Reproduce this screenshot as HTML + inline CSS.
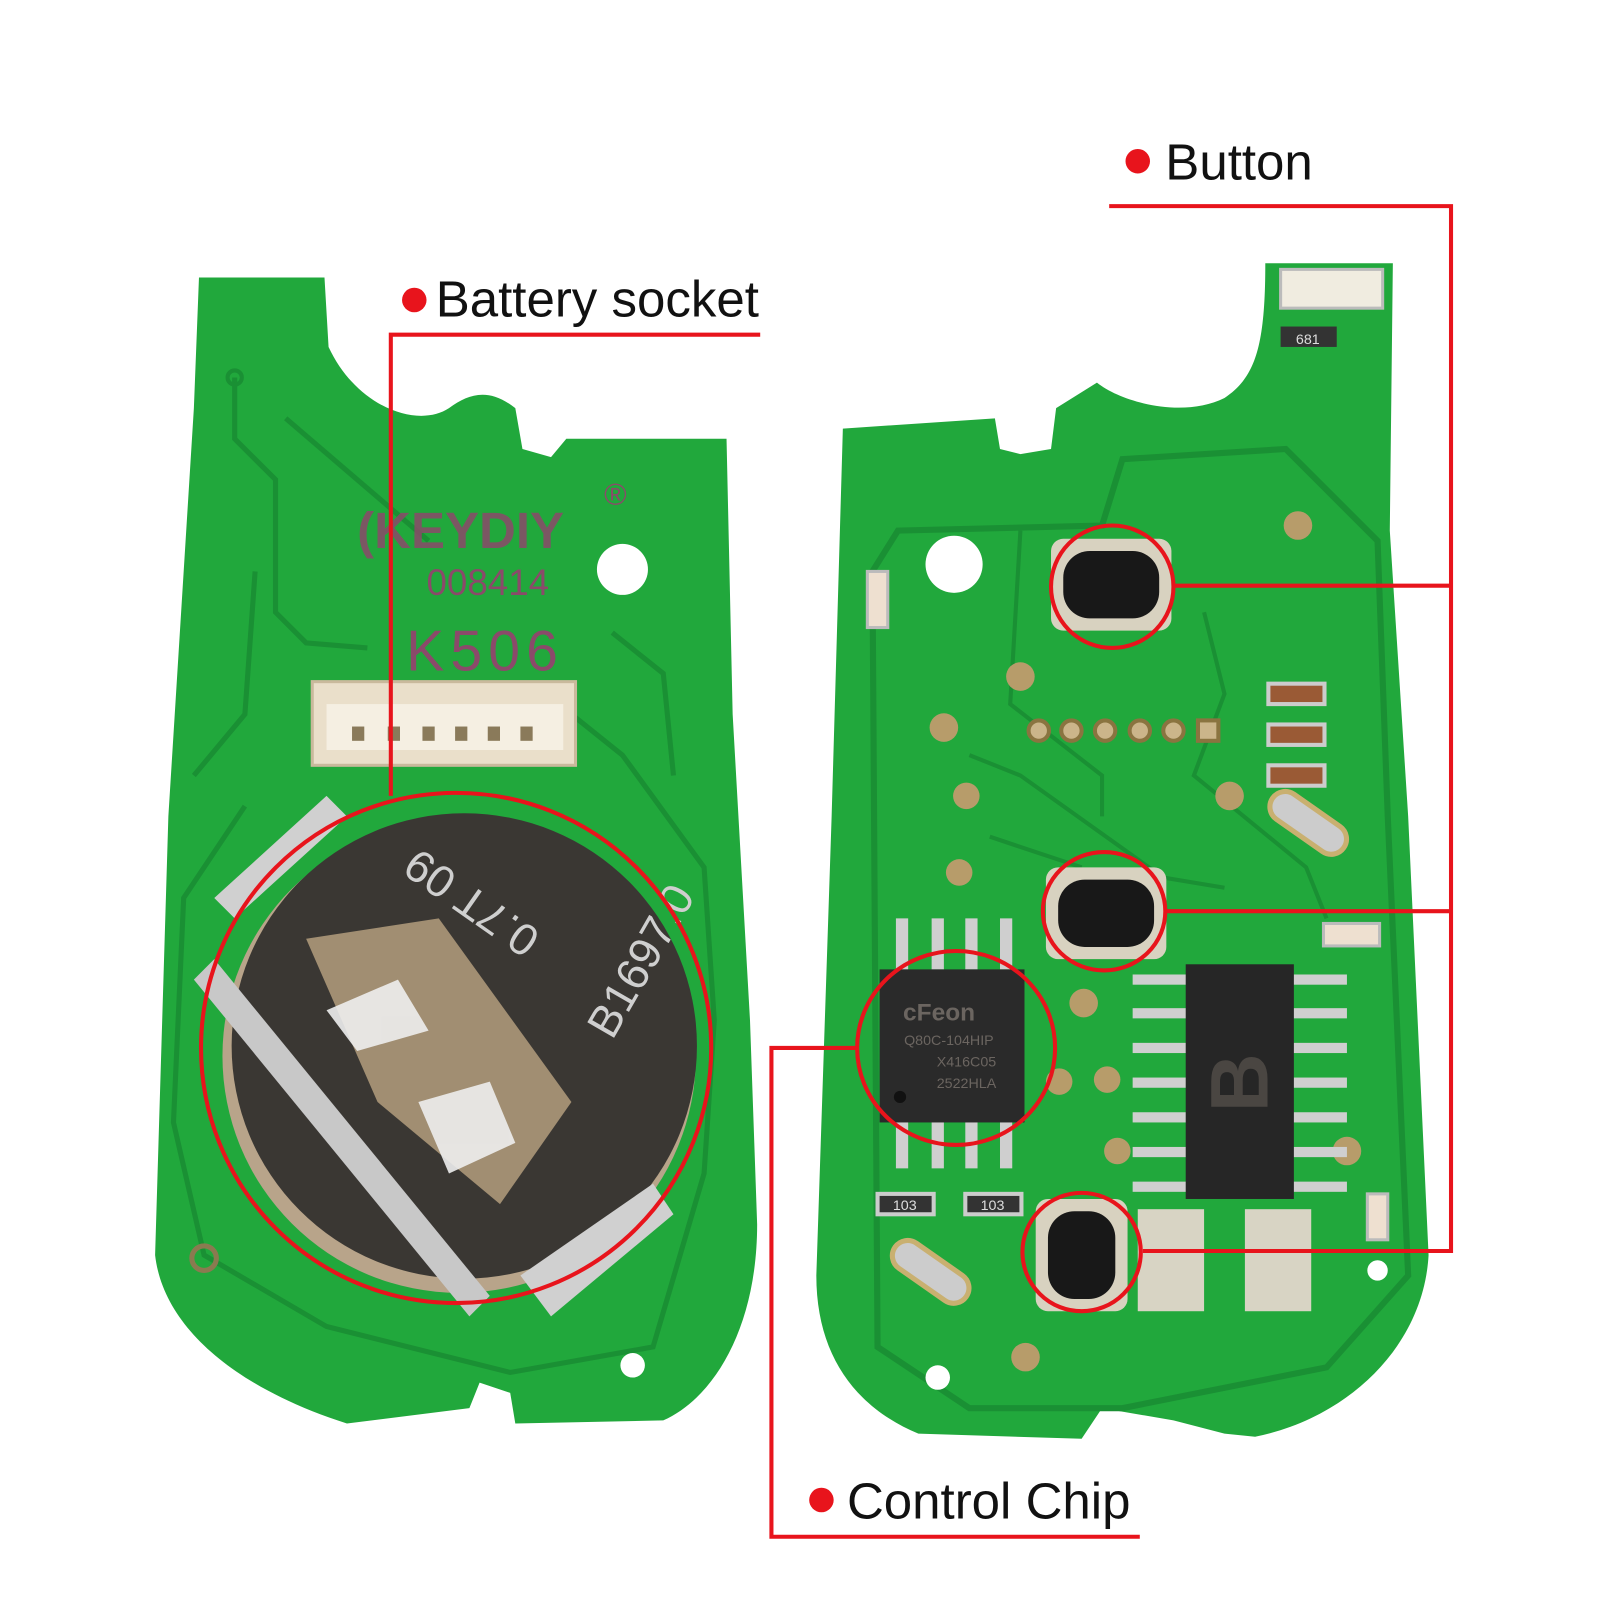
<!DOCTYPE html>
<html><head><meta charset="utf-8"><style>
html,body{margin:0;padding:0;background:#fff;width:1600px;height:1600px;overflow:hidden}
svg{display:block}
text{font-family:"Liberation Sans","DejaVu Sans",sans-serif}
</style></head><body>
<svg width="1600" height="1600" viewBox="0 0 1568 1568" xmlns="http://www.w3.org/2000/svg">
<rect width="1568" height="1568" fill="#fff"/>
<!-- LEFT PCB -->
<path d="M195,272 L318,272 L322,340 C350,400 410,420 440,400 C460,385 480,380 505,400 L512,440 L540,448 L555,430 L712,430 L718,700 L735,1000 L742,1200 C742,1300 700,1370 650,1392 L505,1395 L500,1365 L470,1355 L460,1380 L340,1395 C230,1360 160,1300 152,1230 L165,800 L190,400 Z" fill="#21a83c"/>
<g fill="none" stroke="#1a9034" stroke-width="5">
<path d="M230,370 L230,430 L270,470 L270,600 L300,630 L360,635"/>
<path d="M280,410 L420,530"/>
<path d="M190,760 L240,700 L250,560"/>
<path d="M560,700 L610,740 L690,850 L700,1000 L690,1150 L640,1320 L500,1345 L320,1300 L200,1230 L170,1100 L180,880 L240,790"/>
<path d="M600,620 L650,660 L660,760"/>
</g>
<circle cx="610" cy="558" r="25" fill="#fff"/>
<circle cx="620" cy="1338" r="12" fill="#fff"/>
<circle cx="200" cy="1233" r="12" fill="none" stroke="#8a7a50" stroke-width="5"/>
<circle cx="230" cy="370" r="7" fill="none" stroke="#1a9034" stroke-width="4"/>
<text x="350" y="537" font-size="50" font-weight="bold" fill="#8b4a6a" opacity="0.85">(KEYDIY</text>
<text x="592" y="495" font-size="30" fill="#8b4a6a">®</text>
<text x="418" y="583" font-size="36" fill="#8b4a6a">008414</text>
<text x="398" y="657" font-size="56" fill="#8b4a6a" letter-spacing="6">K506</text>
<!-- connector -->
<rect x="306" y="668" width="258" height="82" fill="#eadfca" stroke="#c9b99c" stroke-width="3"/>
<rect x="320" y="690" width="232" height="45" fill="#f5efe2"/>
<g fill="#8a7a5a"><rect x="345" y="712" width="12" height="14"/><rect x="380" y="712" width="12" height="14"/><rect x="414" y="712" width="12" height="14"/><rect x="446" y="712" width="12" height="14"/><rect x="478" y="712" width="12" height="14"/><rect x="510" y="712" width="12" height="14"/></g>
<!-- battery -->
<circle cx="450" cy="1035" r="232" fill="#b8a48a"/>
<circle cx="455" cy="1025" r="228" fill="#3a3733"/>
<polygon points="300,920 430,900 560,1080 490,1180 370,1080" fill="#a18e72"/>
<g fill="#eee" opacity="0.9"><polygon points="320,990 390,960 420,1010 350,1030"/><polygon points="410,1080 480,1060 505,1120 440,1150"/></g>
<polygon points="190,960 210,940 480,1270 460,1290" fill="#c8c8c8"/>
<polygon points="210,880 320,780 340,800 230,900" fill="#d0d0d0"/>
<polygon points="510,1250 640,1160 660,1190 540,1290" fill="#d0d0d0"/>
<text font-size="44" fill="#cfcfcf" transform="translate(410,830) rotate(35) scale(-1,-1)" text-anchor="end">0.7T 09</text>
<text font-size="44" fill="#cfcfcf" transform="translate(600,1020) rotate(-60)">B1697.0</text>
<circle cx="447" cy="1027" r="250" fill="none" stroke="#e8141c" stroke-width="4"/>
<!-- RIGHT PCB -->
<path d="M826,420 L975,410 L980,440 L1000,445 L1030,440 L1035,400 L1075,375 C1100,395 1160,410 1200,390 C1230,370 1240,340 1240,258 L1365,258 L1362,520 L1380,800 L1400,1230 C1395,1320 1320,1390 1230,1408 L1200,1405 L1150,1392 L1080,1380 L1060,1410 L900,1405 C840,1380 800,1330 800,1250 L815,800 Z" fill="#21a83c"/>
<g fill="none" stroke="#1a9034" stroke-width="6">
<path d="M860,1320 L855,560 L880,520 L1080,515 L1100,450 L1260,440 L1350,530 L1360,800 L1380,1250 L1300,1340 L1100,1380 L950,1380 Z"/>
</g>
<g fill="none" stroke="#1a9034" stroke-width="4">
<path d="M1000,520 L990,690 L1080,760 L1080,800"/>
<path d="M1180,600 L1200,680 L1170,760 L1280,850 L1300,900"/>
<path d="M950,740 L1000,760 L1140,860 L1200,870"/>
<path d="M970,820 L1060,850"/>
</g>
<circle cx="935" cy="553" r="28" fill="#fff"/>
<circle cx="919" cy="1350" r="12" fill="#fff"/>
<circle cx="1350" cy="1245" r="10" fill="#fff"/>
<g fill="#b79c6a"><circle cx="1272" cy="515" r="14"/><circle cx="1000" cy="663" r="14"/><circle cx="925" cy="713" r="14"/><circle cx="947" cy="780" r="13"/><circle cx="940" cy="855" r="13"/><circle cx="1205" cy="780" r="14"/><circle cx="1062" cy="983" r="14"/><circle cx="1085" cy="1058" r="13"/><circle cx="1038" cy="1060" r="13"/><circle cx="1095" cy="1128" r="13"/><circle cx="1320" cy="1128" r="14"/><circle cx="1005" cy="1330" r="14"/></g>
<g fill="#cbb58a" stroke="#8a7440" stroke-width="4"><circle cx="1018" cy="716" r="10"/><circle cx="1050" cy="716" r="10"/><circle cx="1083" cy="716" r="10"/><circle cx="1117" cy="716" r="10"/><circle cx="1150" cy="716" r="10"/><rect x="1174" y="706" width="20" height="20"/></g>
<!-- LED & small parts -->
<rect x="1255" y="264" width="100" height="38" fill="#f0ece0" stroke="#bbb" stroke-width="3"/>
<rect x="1255" y="320" width="55" height="20" fill="#333"/><text x="1270" y="337" font-size="14" fill="#ddd">681</text>
<g fill="#9a5a35" stroke="#ccc" stroke-width="4"><rect x="1243" y="670" width="55" height="20"/><rect x="1243" y="710" width="55" height="20"/><rect x="1243" y="750" width="55" height="20"/></g>
<rect x="850" y="560" width="20" height="55" fill="#eee0d0" stroke="#bbb" stroke-width="3"/>
<rect x="1297" y="905" width="55" height="22" fill="#eee0d0" stroke="#bbb" stroke-width="3"/>
<rect x="1340" y="1170" width="20" height="45" fill="#eee0d0" stroke="#bbb" stroke-width="3"/>
<rect x="1240" y="790" width="85" height="30" rx="15" fill="#ccc" stroke="#c9b070" stroke-width="5" transform="rotate(35 1280 805)"/>
<rect x="870" y="1230" width="85" height="30" rx="15" fill="#ccc" stroke="#c9b070" stroke-width="5" transform="rotate(35 910 1245)"/>
<g fill="#333" stroke="#ccc" stroke-width="4"><rect x="860" y="1170" width="55" height="20"/><rect x="946" y="1170" width="55" height="20"/></g>
<text x="875" y="1186" font-size="14" fill="#ddd">103</text><text x="961" y="1186" font-size="14" fill="#ddd">103</text>
<g fill="#d8d4c4"><rect x="1115" y="1185" width="65" height="100"/><rect x="1220" y="1185" width="65" height="100"/></g>
<!-- small chip -->
<g fill="#cfcfcf"><rect x="878" y="900" width="12" height="50"/><rect x="913" y="900" width="12" height="50"/><rect x="946" y="900" width="12" height="50"/><rect x="980" y="900" width="12" height="50"/><rect x="878" y="1095" width="12" height="50"/><rect x="913" y="1095" width="12" height="50"/><rect x="946" y="1095" width="12" height="50"/><rect x="980" y="1095" width="12" height="50"/></g>
<rect x="862" y="950" width="142" height="150" fill="#2a2a2a"/>
<text x="885" y="1000" font-size="24" font-family="Liberation Serif,serif" fill="#6b6560" font-weight="bold">cFeon</text>
<text x="886" y="1024" font-size="14" fill="#6b6560">Q80C-104HIP</text>
<text x="918" y="1045" font-size="14" fill="#6b6560">X416C05</text>
<text x="918" y="1066" font-size="14" fill="#6b6560">2522HLA</text>
<circle cx="882" cy="1075" r="6" fill="#111"/>
<!-- big chip -->
<g fill="#cfcfcf"><rect x="1110" y="955" width="55" height="10"/><rect x="1110" y="988" width="55" height="10"/><rect x="1110" y="1022" width="55" height="10"/><rect x="1110" y="1056" width="55" height="10"/><rect x="1110" y="1090" width="55" height="10"/><rect x="1110" y="1124" width="55" height="10"/><rect x="1110" y="1158" width="55" height="10"/><rect x="1265" y="955" width="55" height="10"/><rect x="1265" y="988" width="55" height="10"/><rect x="1265" y="1022" width="55" height="10"/><rect x="1265" y="1056" width="55" height="10"/><rect x="1265" y="1090" width="55" height="10"/><rect x="1265" y="1124" width="55" height="10"/><rect x="1265" y="1158" width="55" height="10"/></g>
<rect x="1162" y="945" width="106" height="230" fill="#262626"/>
<text font-size="80" font-weight="bold" fill="#4a4642" transform="translate(1242,1090) rotate(-90)">B</text>
<!-- buttons -->
<rect x="1030" y="528" width="118" height="90" rx="12" fill="#d8d2c0"/><rect x="1042" y="540" width="94" height="66" rx="26" fill="#181818"/>
<rect x="1025" y="850" width="118" height="90" rx="12" fill="#d8d2c0"/><rect x="1037" y="862" width="94" height="66" rx="26" fill="#181818"/>
<rect x="1015" y="1175" width="90" height="110" rx="12" fill="#d8d2c0"/><rect x="1027" y="1187" width="66" height="86" rx="26" fill="#181818"/>
<!-- red annotation circles -->
<ellipse cx="1090" cy="575" rx="60" ry="60" fill="none" stroke="#e8141c" stroke-width="4"/>
<ellipse cx="1082" cy="893" rx="60" ry="58" fill="none" stroke="#e8141c" stroke-width="4"/>
<ellipse cx="1060" cy="1227" rx="58" ry="58" fill="none" stroke="#e8141c" stroke-width="4"/>
<ellipse cx="937" cy="1027" rx="97" ry="95" fill="none" stroke="#e8141c" stroke-width="4"/>
<!-- leader lines -->
<g fill="none" stroke="#e8141c" stroke-width="4">
<path d="M745,328 L383,328 L383,780"/>
<path d="M1087,202 L1422,202 L1422,1226 L1120,1226"/>
<path d="M1150,574 L1422,574"/>
<path d="M1143,893 L1422,893"/>
<path d="M840,1027 L756,1027 L756,1506 L1117,1506"/>
</g>
<g fill="#e8141c"><circle cx="406" cy="294" r="12"/><circle cx="1115" cy="158" r="12"/><circle cx="805" cy="1470" r="12"/></g>
<g fill="#111" font-size="50"><text x="427" y="310">Battery socket</text><text x="1142" y="176">Button</text><text x="830" y="1488">Control Chip</text></g>
</svg>
</body></html>
